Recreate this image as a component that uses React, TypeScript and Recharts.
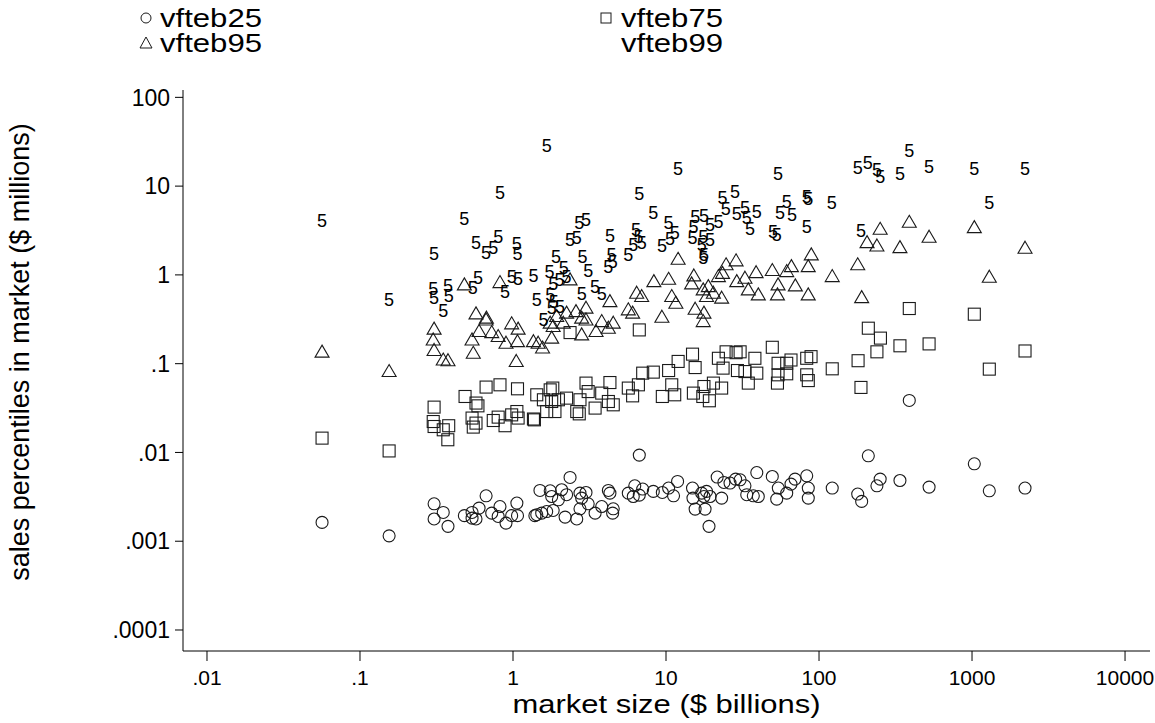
import { ScatterChart, Scatter, XAxis, YAxis, Label } from 'recharts'

// market size ($ billions) vs sales percentiles ($ millions), one [x, y] pair per market
const vfteb25: [number, number][] = [
  [0.0565, 0.00163], [0.155, 0.00115], [0.305, 0.00264], [0.35, 0.00211], [0.305, 0.00178], [0.376, 0.00147],
  [0.481, 0.00194], [0.54, 0.00211], [0.6, 0.00236], [0.54, 0.00182], [0.573, 0.00178], [0.667, 0.00325],
  [0.726, 0.00207], [0.822, 0.00246], [0.8, 0.0019], [0.9, 0.0016], [0.98, 0.00194], [1.07, 0.00194],
  [1.06, 0.00269], [1.43, 0.00199], [1.5, 0.00373], [6.69, 0.00934], [2.36, 0.00523], [11.9, 0.00471],
  [21.6, 0.00528], [28.5, 0.00501], [39.2, 0.00594], [23.9, 0.00459], [14.9, 0.00397], [32.8, 0.00421],
  [1.75, 0.0037], [2.08, 0.0038], [2.74, 0.00348], [3.0, 0.00354], [4.2, 0.00373], [4.3, 0.00348],
  [6.25, 0.00421], [7.04, 0.00387], [8.26, 0.00364], [9.46, 0.00354], [10.4, 0.00397], [11.2, 0.00325],
  [5.67, 0.00348], [6.11, 0.00319], [6.69, 0.00331], [1.79, 0.00319], [1.98, 0.00293], [2.24, 0.00334],
  [2.81, 0.00306], [3.1, 0.00264], [2.74, 0.00232], [3.8, 0.00246], [4.52, 0.00232], [4.48, 0.00207],
  [3.44, 0.00207], [2.61, 0.00178], [2.19, 0.00187], [1.83, 0.00222], [1.66, 0.00216], [1.54, 0.00207],
  [1.39, 0.00194], [15.0, 0.00306], [15.5, 0.0023], [18.0, 0.0023], [17.1, 0.00348], [18.4, 0.00364],
  [17.7, 0.00319], [19.4, 0.00319], [23.1, 0.00306], [19.1, 0.00147], [33.7, 0.00334], [37.2, 0.00325],
  [40.1, 0.00319], [26.2, 0.00452], [49.5, 0.00536], [30.5, 0.00492], [83.1, 0.00546], [85.1, 0.00397],
  [85.1, 0.00306], [69.7, 0.00501], [61.5, 0.00348], [54.2, 0.00397], [52.9, 0.00298], [65.6, 0.0044],
  [122, 0.00397], [179, 0.0034], [190, 0.00281], [210, 0.00917], [239, 0.00421], [251, 0.00501],
  [338, 0.00483], [389, 0.0385], [524, 0.00407], [1035, 0.00745], [1297, 0.0037], [2220, 0.00397],
]

const vfteb75: [number, number][] = [
  [0.0565, 0.0145], [0.155, 0.0104], [0.305, 0.0324], [0.486, 0.0427], [0.573, 0.036], [0.59, 0.0335],
  [0.667, 0.0545], [0.822, 0.0578], [1.07, 0.0521], [1.43, 0.0446], [0.301, 0.0223], [0.305, 0.0196],
  [0.35, 0.018], [0.38, 0.02], [0.375, 0.0139], [0.54, 0.0244], [0.573, 0.0214], [0.55, 0.0193],
  [0.743, 0.0229], [0.8, 0.025], [0.887, 0.02], [0.98, 0.0265], [1.06, 0.0289], [1.08, 0.0244],
  [1.36, 0.0238], [6.69, 0.24], [2.36, 0.224], [1.75, 0.0507], [1.82, 0.0531], [1.58, 0.0392],
  [1.79, 0.0375], [1.98, 0.0392], [2.24, 0.0409], [2.74, 0.0392], [3.0, 0.0604], [3.1, 0.0485],
  [3.8, 0.0466], [4.3, 0.0613], [4.2, 0.0375], [4.52, 0.0344], [3.44, 0.0316], [2.71, 0.0272],
  [2.61, 0.0289], [1.88, 0.0289], [1.66, 0.0289], [1.38, 0.0233], [5.67, 0.0531], [6.05, 0.0434],
  [6.6, 0.0578], [7.04, 0.0782], [8.26, 0.0803], [10.4, 0.0837], [12.0, 0.106], [10.9, 0.0578],
  [11.4, 0.0446], [9.46, 0.0427], [14.9, 0.128], [15.5, 0.0904], [15.1, 0.0466], [17.7, 0.0553],
  [17.4, 0.0427], [19.2, 0.0382], [20.4, 0.0604], [23.1, 0.0531], [22.0, 0.115], [24.7, 0.136],
  [28.7, 0.133], [23.6, 0.0891], [29.3, 0.0837], [32.8, 0.0815], [34.5, 0.0604], [38.1, 0.115],
  [39.2, 0.0782], [49.5, 0.153], [65.6, 0.11], [88.7, 0.12], [83.1, 0.115], [54.0, 0.101],
  [61.5, 0.101], [61.5, 0.0769], [54.0, 0.0749], [53.5, 0.0604], [83.1, 0.0749], [85.1, 0.0645],
  [30.5, 0.136], [122, 0.0875], [180, 0.108], [188, 0.054], [210, 0.251], [239, 0.136],
  [252, 0.194], [338, 0.159], [389, 0.418], [524, 0.167], [1035, 0.361], [1297, 0.0868], [2220, 0.139],
]

const vfteb95: [number, number][] = [
  [0.0565, 0.135], [0.155, 0.0815], [0.305, 0.245], [0.301, 0.185], [0.305, 0.141], [0.35, 0.11],
  [0.376, 0.108], [0.54, 0.185], [0.6, 0.23], [0.667, 0.311], [0.726, 0.224], [0.8, 0.202],
  [0.9, 0.17], [1.07, 0.177], [1.08, 0.245], [0.98, 0.281], [1.05, 0.106], [0.55, 0.131],
  [1.36, 0.177], [1.46, 0.17], [0.481, 0.772], [0.822, 0.819], [0.573, 0.364], [0.67, 0.326],
  [1.56, 0.15], [1.79, 0.194], [1.83, 0.262], [2.13, 0.286], [2.81, 0.211], [3.49, 0.23],
  [4.2, 0.251], [4.52, 0.286], [17.5, 0.298], [12.0, 1.5], [28.7, 1.44], [24.7, 1.3],
  [38.8, 1.06], [15.2, 0.974], [10.4, 0.894], [8.33, 0.84], [32.8, 0.918], [29.0, 0.84],
  [22.0, 0.957], [23.4, 1.04], [14.7, 0.792], [17.5, 0.678], [18.9, 0.738], [20.4, 0.622],
  [23.1, 0.547], [18.4, 0.57], [6.43, 0.622], [6.93, 0.57], [10.9, 0.57], [11.6, 0.48],
  [15.5, 0.411], [17.7, 0.371], [9.4, 0.334], [4.3, 0.5], [5.67, 0.404], [6.05, 0.371],
  [3.0, 0.422], [2.58, 0.386], [3.0, 0.311], [2.81, 0.326], [3.8, 0.298], [2.36, 0.879],
  [1.93, 0.34], [2.24, 0.371], [1.75, 0.286], [251, 3.27], [389, 3.92], [524, 2.66],
  [1035, 3.41], [2220, 2.0], [1297, 0.942], [206, 2.31], [239, 2.12], [338, 2.03],
  [179, 1.3], [190, 0.555], [122, 0.957], [89, 1.68], [85, 1.24], [85, 0.596],
  [66, 1.24], [70, 0.752], [61.5, 1.09], [54, 0.772], [53.5, 0.596], [49.5, 1.12],
  [34.5, 0.678], [40.1, 0.596],
]

const vfteb99: [number, number][] = [
  [0.0565, 4.09], [0.155, 0.524], [0.822, 8.45], [0.481, 4.24], [0.305, 1.72], [0.573, 2.31],
  [0.8, 2.7], [0.667, 1.78], [0.743, 2.0], [1.06, 2.23], [1.07, 1.72], [0.301, 0.69],
  [0.305, 0.547], [0.376, 0.758], [0.38, 0.58], [0.35, 0.396], [0.59, 0.933], [0.545, 0.708],
  [0.98, 0.957], [1.08, 0.902], [0.887, 0.649], [1.36, 0.98], [1.43, 0.524], [1.66, 28.3],
  [12.0, 15.5], [6.69, 8.1], [28.2, 8.53], [23.4, 7.3], [24.6, 5.53], [8.26, 4.95],
  [10.4, 3.88], [15.5, 4.46], [17.7, 4.62], [15.1, 3.45], [19.4, 3.66], [22.0, 3.98],
  [29.0, 4.86], [33.7, 4.35], [32.8, 5.64], [39.2, 5.16], [35.4, 3.27], [11.4, 2.95],
  [10.6, 2.52], [9.4, 2.12], [14.9, 2.59], [17.5, 2.7], [19.4, 2.48], [17.1, 2.18],
  [17.7, 1.68], [17.5, 1.54], [6.37, 3.21], [6.6, 2.7], [6.93, 2.31], [6.11, 2.18],
  [5.67, 1.68], [4.3, 2.75], [2.71, 3.88], [3.0, 4.16], [2.36, 2.48], [2.61, 2.59],
  [1.91, 1.58], [2.85, 1.61], [4.4, 1.68], [4.48, 1.38], [4.2, 1.22], [3.1, 1.12],
  [2.15, 1.19], [1.73, 1.09], [1.83, 0.792], [2.01, 0.879], [2.24, 0.957], [1.75, 0.596],
  [1.85, 0.5], [1.79, 0.422], [2.81, 0.607], [3.44, 0.738], [3.8, 0.607], [1.58, 0.311],
  [2.03, 0.44], [54, 13.6], [179, 16.0], [208, 18.2], [239, 15.2], [251, 12.8],
  [338, 13.6], [389, 25.1], [524, 16.6], [1035, 15.5], [2220, 15.6], [1297, 6.42],
  [121, 6.42], [188, 3.13], [83, 7.6], [85, 7.2], [83, 3.5], [50, 3.07],
  [53, 2.82], [55.6, 4.99], [61.5, 6.69], [66.5, 4.73],
]

const xTicks = [0.01, 0.1, 1, 10, 100, 1000, 10000]
const yTicks = [0.0001, 0.001, 0.01, 0.1, 1, 10, 100]

const toPoints = (arr: [number, number][]) => arr.map(([x, y]) => ({ x, y }))
const fmt = (v: number) => String(v).replace(/^0\./, '.')

const INK = '#1a1a1a'

const CircleMark = (p: any) => <circle cx={p.cx} cy={p.cy} r={6} fill="none" stroke={INK} strokeWidth={1.1} />
const SquareMark = (p: any) => (
  <rect x={p.cx - 6} y={p.cy - 6} width={12} height={12} fill="none" stroke={INK} strokeWidth={1.1} />
)
const TriangleMark = (p: any) => (
  <path d={`M${p.cx},${p.cy - 7} L${p.cx + 7},${p.cy + 5} L${p.cx - 7},${p.cy + 5} Z`} fill="none" stroke={INK} strokeWidth={1.1} />
)
const FiveMark = (p: any) => (
  <text x={p.cx} y={p.cy} textAnchor="middle" dominantBaseline="central" fontSize={18} fill="#000">5</text>
)

const XTitle = (p: any) => {
  const vb = p.viewBox || { x: 183, width: 967 }
  const cx = vb.x + vb.width / 2
  return (
    <text x={cx} y={713} textAnchor="middle" fontSize={26} fill="#000" textLength={308} lengthAdjust="spacingAndGlyphs">
      market size ($ billions)
    </text>
  )
}

const YTitle = () => {
  const cy = 352
  return (
    <text x={20} y={cy} transform={`rotate(-90 20 ${cy})`} textAnchor="middle" dominantBaseline="central" fontSize={27} fill="#000">
      sales percentiles in market ($ millions)
    </text>
  )
}

const legendText = { fontSize: 26, textLength: 102, lengthAdjust: 'spacingAndGlyphs' as const }

export default function App() {
  return (
    <div style={{ position: 'absolute', left: 0, top: 0, width: 1155, height: 723, background: '#fff', fontFamily: 'Arial, "Liberation Sans", sans-serif' }}>
      <svg width={1155} height={60} style={{ position: 'absolute', left: 0, top: 0 }}>
        <g fill="#000">
          <circle cx={146} cy={18} r={5} fill="none" stroke={INK} />
          <text x={160} y={27} {...legendText}>vfteb25</text>
          <rect x={601} y={13} width={10} height={10} fill="none" stroke={INK} />
          <text x={621} y={27} {...legendText}>vfteb75</text>
          <path d="M146,37 L152,48 L140,48 Z" fill="none" stroke={INK} />
          <text x={160} y={52} {...legendText}>vfteb95</text>
          <text x={621} y={52} {...legendText}>vfteb99</text>
        </g>
      </svg>
      <ScatterChart width={1155} height={723} margin={{ top: 90, right: 5, bottom: 0, left: 0 }}>
        <XAxis
          type="number"
          dataKey="x"
          scale="log"
          domain={[0.00697, 14560]}
          allowDataOverflow
          ticks={xTicks}
          tickFormatter={fmt}
          height={72}
          tickSize={10}
          tickMargin={9}
          axisLine={{ stroke: '#000' }}
          tickLine={{ stroke: '#000' }}
          tick={{ fill: '#000', fontSize: 21 }}
        >
          <Label content={XTitle} />
        </XAxis>
        <YAxis
          type="number"
          dataKey="y"
          scale="log"
          domain={[0.000058, 121]}
          allowDataOverflow
          ticks={yTicks}
          tickFormatter={fmt}
          width={183}
          tickSize={8}
          tickMargin={5}
          axisLine={{ stroke: '#000' }}
          tickLine={{ stroke: '#000' }}
          tick={{ fill: '#000', fontSize: 23 }}
        >
          <Label content={YTitle} />
        </YAxis>
        <Scatter name="vfteb25" data={toPoints(vfteb25)} shape={CircleMark} isAnimationActive={false} />
        <Scatter name="vfteb75" data={toPoints(vfteb75)} shape={SquareMark} isAnimationActive={false} />
        <Scatter name="vfteb95" data={toPoints(vfteb95)} shape={TriangleMark} isAnimationActive={false} />
        <Scatter name="vfteb99" data={toPoints(vfteb99)} shape={FiveMark} isAnimationActive={false} />
      </ScatterChart>
    </div>
  )
}
